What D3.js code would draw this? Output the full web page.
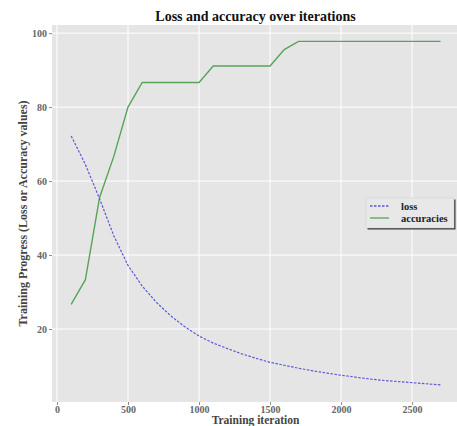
<!DOCTYPE html>
<html>
<head>
<meta charset="utf-8">
<script src="https://cdn.jsdelivr.net/npm/d3@7"></script>
<style>
  body { margin: 0; background: #fff; }
  svg { display: block; }
  .tick text { font-family: "Liberation Serif", "Times New Roman", serif; font-weight: bold; font-size: 10px; fill: #666; }
  .tick line { stroke: #888; }
</style>
</head>
<body>
<div id="plot"></div>
<script>
// data
var iterations = [100, 200, 300, 400, 500, 600, 700, 800, 900, 1000, 1100, 1200, 1300, 1400,
    1500, 1600, 1700, 1800, 1900, 2000, 2100, 2200, 2300, 2400, 2500, 2600, 2700];
var loss = [72.2, 64.5, 55.2, 45.2, 37.2, 31.6, 27.2, 23.6, 20.6, 18.1, 16.2, 14.7, 13.3, 12.1,
    11.0, 10.2, 9.4, 8.7, 8.1, 7.5, 7.0, 6.5, 6.1, 5.8, 5.5, 5.2, 4.9];
var accuracies = [26.67, 33.33, 55.56, 66.67, 80.0, 86.67, 86.67, 86.67, 86.67, 86.67, 91.11, 91.11, 91.11, 91.11,
    91.11, 95.56, 97.78, 97.78, 97.78, 97.78, 97.78, 97.78, 97.78, 97.78, 97.78, 97.78, 97.78];
var xTicks = [0, 500, 1000, 1500, 2000, 2500];
var yTicks = [20, 40, 60, 80, 100];
var seriesNames = ["loss", "accuracies"];

var W = 457, H = 426;
var margin = { top: 25, right: -2, bottom: 24, left: 52 },
    width = W - margin.left - margin.right,
    height = H - margin.top - margin.bottom;

var serif = '"Liberation Serif", "Times New Roman", serif';

var xScale = d3.scaleLinear().domain([-35, 2830]).range([0, width]);
var yScale = d3.scaleLinear().domain([0.27, 102.2]).range([height, 0]);

var svg = d3.select("#plot").append("svg")
    .attr("width", W)
    .attr("height", H);

var g = svg.append("g")
    .attr("transform", "translate(" + margin.left + "," + margin.top + ")");

// panel background
g.append("rect")
    .attr("width", W - margin.left)
    .attr("height", height)
    .attr("fill", "#e5e5e5");

// grid
g.append("g").selectAll("line")
    .data(xTicks).enter().append("line")
    .attr("x1", function(d) { return xScale(d); })
    .attr("x2", function(d) { return xScale(d); })
    .attr("y1", 0).attr("y2", height)
    .attr("stroke", "#fff").attr("stroke-width", 1);
g.append("g").selectAll("line")
    .data(yTicks).enter().append("line")
    .attr("y1", function(d) { return yScale(d); })
    .attr("y2", function(d) { return yScale(d); })
    .attr("x1", 0).attr("x2", W - margin.left)
    .attr("stroke", "#fff").attr("stroke-width", 1);

// axes
var xAxis = d3.axisBottom(xScale).tickValues(xTicks).tickSize(3).tickPadding(1).tickFormat(d3.format("d"));
var yAxis = d3.axisLeft(yScale).tickValues(yTicks).tickSize(3).tickPadding(2);

g.append("g").attr("transform", "translate(0," + height + ")").call(xAxis)
    .call(function(a) { a.select(".domain").remove(); });
g.append("g").call(yAxis)
    .call(function(a) { a.select(".domain").remove(); });

// lines
var lossData = iterations.map(function(d, i) { return { x: d, y: loss[i] }; });
var accData = iterations.map(function(d, i) { return { x: d, y: accuracies[i] }; });

var line = d3.line()
    .x(function(d) { return xScale(d.x); })
    .y(function(d) { return yScale(d.y); });

g.append("path").datum(accData)
    .attr("d", line)
    .attr("fill", "none")
    .attr("stroke", "#58a558")
    .attr("stroke-width", 1.4);

g.append("path").datum(lossData)
    .attr("d", line)
    .attr("fill", "none")
    .attr("stroke", "#5a5ad4")
    .attr("stroke-width", 1.2)
    .attr("stroke-dasharray", "2.5,1.5");

// title
svg.append("text")
    .attr("x", margin.left + (W - margin.left) / 2 + 1)
    .attr("y", 21)
    .attr("text-anchor", "middle")
    .style("font-family", serif)
    .style("font-weight", "bold")
    .style("font-size", "14px")
    .attr("fill", "#111")
    .text("Loss and accuracy over iterations");

// axis titles
svg.append("text")
    .attr("x", margin.left + (W - margin.left) / 2 + 1)
    .attr("y", 423.5)
    .attr("text-anchor", "middle")
    .style("font-family", serif)
    .style("font-weight", "bold")
    .style("font-size", "11.5px")
    .attr("fill", "#444")
    .text("Training iteration");

svg.append("text")
    .attr("transform", "translate(27," + (margin.top + height / 2) + ") rotate(-90)")
    .attr("text-anchor", "middle")
    .style("font-family", serif)
    .style("font-weight", "bold")
    .style("font-size", "12px")
    .attr("fill", "#444")
    .text("Training Progress (Loss or Accuracy values)");

// legend
var legend = svg.append("g").attr("transform", "translate(366,198)");
legend.append("rect")
    .attr("x", 1.5).attr("y", 1.5)
    .attr("width", 88).attr("height", 30)
    .attr("fill", "#3a3a3a");
legend.append("rect")
    .attr("width", 88).attr("height", 30)
    .attr("fill", "#e8e8e8")
    .attr("stroke", "#d0d0d0")
    .attr("stroke-width", 0.5);

var items = legend.selectAll("g.item")
    .data(seriesNames).enter().append("g")
    .attr("class", "item")
    .attr("transform", function(d, i) { return "translate(0," + (8 + i * 12) + ")"; });

items.append("line")
    .attr("x1", 4).attr("x2", 23)
    .attr("stroke", function(d) { return d === "loss" ? "#5a5ad4" : "#58a558"; })
    .attr("stroke-width", 1.3)
    .attr("stroke-dasharray", function(d) { return d === "loss" ? "2.5,1.5" : null; });

items.append("text")
    .attr("x", 35).attr("y", 3.5)
    .style("font-family", serif)
    .style("font-weight", "bold")
    .style("font-size", "10.5px")
    .attr("fill", "#222")
    .text(function(d) { return d; });
</script>
</body>
</html>
